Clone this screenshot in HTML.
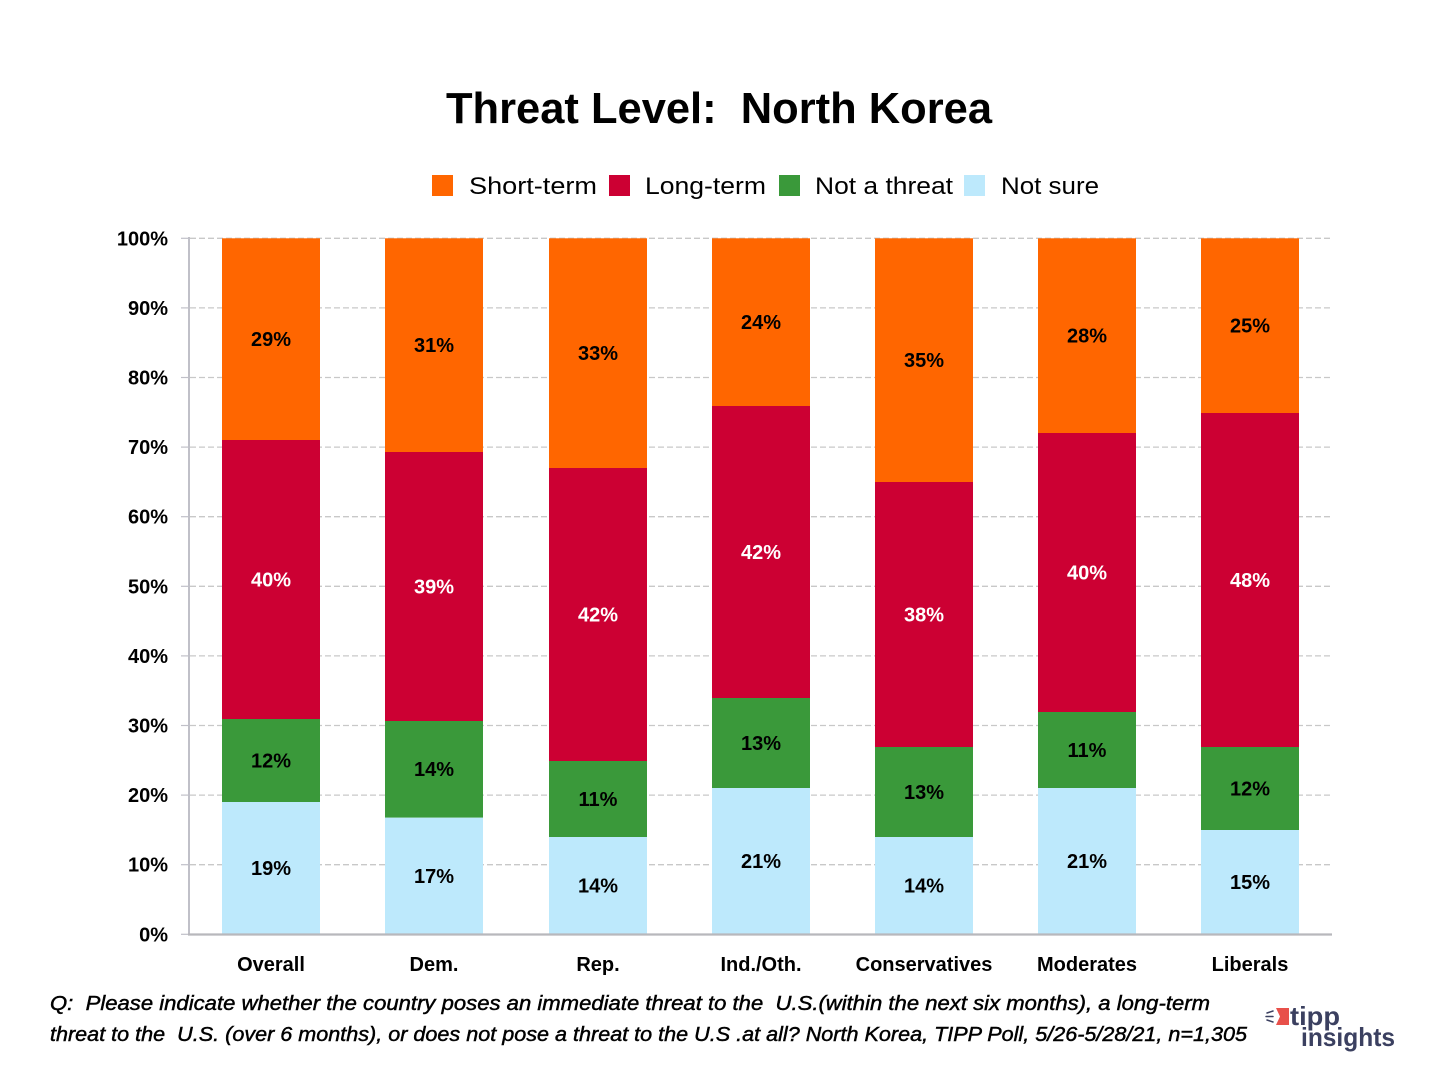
<!DOCTYPE html>
<html><head><meta charset="utf-8"><style>
html,body{margin:0;padding:0;background:#fff;}
svg{display:block;}
text{font-family:"Liberation Sans",sans-serif;white-space:pre;}
</style></head><body>
<svg width="1440" height="1080" viewBox="0 0 1440 1080" xmlns="http://www.w3.org/2000/svg" xml:space="preserve">
<rect width="1440" height="1080" fill="#fff"/>
<text x="446" y="123" font-size="44" font-weight="bold" textLength="546" lengthAdjust="spacingAndGlyphs" fill="#000">Threat Level:  North Korea</text>
<g font-size="24" fill="#000">
<rect x="432" y="175" width="21" height="21" fill="#FF6600"/>
<text x="469" y="194" textLength="128" lengthAdjust="spacingAndGlyphs">Short-term</text>
<rect x="609" y="175" width="21" height="21" fill="#CC0033"/>
<text x="645" y="194" textLength="121" lengthAdjust="spacingAndGlyphs">Long-term</text>
<rect x="779" y="175" width="21" height="21" fill="#3A993A"/>
<text x="815" y="194" textLength="138" lengthAdjust="spacingAndGlyphs">Not a threat</text>
<rect x="964" y="175" width="21" height="21" fill="#BDE9FC"/>
<text x="1001" y="194" textLength="98" lengthAdjust="spacingAndGlyphs">Not sure</text>
</g>
<g stroke="#c8c8c8" stroke-width="1.3" stroke-dasharray="6,3">
<line x1="190" y1="238.3" x2="1331" y2="238.3"/>
<line x1="190" y1="307.9" x2="1331" y2="307.9"/>
<line x1="190" y1="377.5" x2="1331" y2="377.5"/>
<line x1="190" y1="447.1" x2="1331" y2="447.1"/>
<line x1="190" y1="516.7" x2="1331" y2="516.7"/>
<line x1="190" y1="586.3" x2="1331" y2="586.3"/>
<line x1="190" y1="655.9" x2="1331" y2="655.9"/>
<line x1="190" y1="725.5" x2="1331" y2="725.5"/>
<line x1="190" y1="795.1" x2="1331" y2="795.1"/>
<line x1="190" y1="864.7" x2="1331" y2="864.7"/>
</g>
<g stroke="#c0c0c8" stroke-width="1.2">
<line x1="181" y1="238.3" x2="189" y2="238.3"/>
<line x1="181" y1="307.9" x2="189" y2="307.9"/>
<line x1="181" y1="377.5" x2="189" y2="377.5"/>
<line x1="181" y1="447.1" x2="189" y2="447.1"/>
<line x1="181" y1="516.7" x2="189" y2="516.7"/>
<line x1="181" y1="586.3" x2="189" y2="586.3"/>
<line x1="181" y1="655.9" x2="189" y2="655.9"/>
<line x1="181" y1="725.5" x2="189" y2="725.5"/>
<line x1="181" y1="795.1" x2="189" y2="795.1"/>
<line x1="181" y1="864.7" x2="189" y2="864.7"/>
<line x1="181" y1="934.3" x2="189" y2="934.3"/>
</g>
<g>
<rect x="222" y="238.3" width="98" height="201.7" fill="#FF6600"/>
<rect x="222" y="440" width="98" height="279" fill="#CC0033"/>
<rect x="222" y="719" width="98" height="83" fill="#3A993A"/>
<rect x="222" y="802" width="98" height="132.3" fill="#BDE9FC"/>

<rect x="385" y="238.3" width="98" height="213.7" fill="#FF6600"/>
<rect x="385" y="452" width="98" height="269" fill="#CC0033"/>
<rect x="385" y="721" width="98" height="96.7" fill="#3A993A"/>
<rect x="385" y="817.7" width="98" height="116.6" fill="#BDE9FC"/>

<rect x="549" y="238.3" width="98" height="229.7" fill="#FF6600"/>
<rect x="549" y="468" width="98" height="293" fill="#CC0033"/>
<rect x="549" y="761" width="98" height="76" fill="#3A993A"/>
<rect x="549" y="837" width="98" height="97.3" fill="#BDE9FC"/>

<rect x="712" y="238.3" width="98" height="167.7" fill="#FF6600"/>
<rect x="712" y="406" width="98" height="292" fill="#CC0033"/>
<rect x="712" y="698" width="98" height="90" fill="#3A993A"/>
<rect x="712" y="788" width="98" height="146.3" fill="#BDE9FC"/>

<rect x="875" y="238.3" width="98" height="243.7" fill="#FF6600"/>
<rect x="875" y="482" width="98" height="265" fill="#CC0033"/>
<rect x="875" y="747" width="98" height="90" fill="#3A993A"/>
<rect x="875" y="837" width="98" height="97.3" fill="#BDE9FC"/>

<rect x="1038" y="238.3" width="98" height="194.7" fill="#FF6600"/>
<rect x="1038" y="433" width="98" height="279" fill="#CC0033"/>
<rect x="1038" y="712" width="98" height="76" fill="#3A993A"/>
<rect x="1038" y="788" width="98" height="146.3" fill="#BDE9FC"/>

<rect x="1201" y="238.3" width="98" height="174.7" fill="#FF6600"/>
<rect x="1201" y="413" width="98" height="334" fill="#CC0033"/>
<rect x="1201" y="747" width="98" height="83" fill="#3A993A"/>
<rect x="1201" y="830" width="98" height="104.3" fill="#BDE9FC"/>
</g>
<line x1="189" y1="237" x2="189" y2="935" stroke="#c0c0c8" stroke-width="2"/>
<line x1="188" y1="934.5" x2="1332" y2="934.5" stroke="#b8b8bc" stroke-width="2.2"/>
<g font-size="20" font-weight="bold" text-anchor="end" fill="#000">
<text x="168" y="245.3">100%</text>
<text x="168" y="314.9">90%</text>
<text x="168" y="384.5">80%</text>
<text x="168" y="454.1">70%</text>
<text x="168" y="523.7">60%</text>
<text x="168" y="593.3">50%</text>
<text x="168" y="662.9">40%</text>
<text x="168" y="732.5">30%</text>
<text x="168" y="802.1">20%</text>
<text x="168" y="871.7">10%</text>
<text x="168" y="941.3">0%</text>
</g>
<g font-size="20" font-weight="bold" text-anchor="middle" fill="#000">
<text x="271" y="346">29%</text><text x="271" y="586.5" fill="#fff">40%</text><text x="271" y="767.5">12%</text><text x="271" y="875">19%</text>
<text x="434" y="352">31%</text><text x="434" y="593.5" fill="#fff">39%</text><text x="434" y="776">14%</text><text x="434" y="883">17%</text>
<text x="598" y="360">33%</text><text x="598" y="621.5" fill="#fff">42%</text><text x="598" y="806">11%</text><text x="598" y="892.5">14%</text>
<text x="761" y="329">24%</text><text x="761" y="559" fill="#fff">42%</text><text x="761" y="750">13%</text><text x="761" y="868">21%</text>
<text x="924" y="367">35%</text><text x="924" y="621.5" fill="#fff">38%</text><text x="924" y="799">13%</text><text x="924" y="892.5">14%</text>
<text x="1087" y="342.5">28%</text><text x="1087" y="579.5" fill="#fff">40%</text><text x="1087" y="757">11%</text><text x="1087" y="868">21%</text>
<text x="1250" y="332.5">25%</text><text x="1250" y="587" fill="#fff">48%</text><text x="1250" y="795.5">12%</text><text x="1250" y="889">15%</text>
</g>
<g font-size="20" font-weight="bold" text-anchor="middle" fill="#000">
<text x="271" y="971">Overall</text>
<text x="434" y="971">Dem.</text>
<text x="598" y="971">Rep.</text>
<text x="761" y="971">Ind./Oth.</text>
<text x="924" y="971">Conservatives</text>
<text x="1087" y="971">Moderates</text>
<text x="1250" y="971">Liberals</text>
</g>
<g font-size="20" font-style="italic" fill="#000" stroke="#000" stroke-width="0.45">
<text x="50" y="1010" textLength="1160" lengthAdjust="spacingAndGlyphs">Q:  Please indicate whether the country poses an immediate threat to the  U.S.(within the next six months), a long-term</text>
<text x="50" y="1041" textLength="1197" lengthAdjust="spacingAndGlyphs">threat to the  U.S. (over 6 months), or does not pose a threat to the U.S .at all? North Korea, TIPP Poll, 5/26-5/28/21, n=1,305</text>
</g>
<g>
<path d="M1276 1008 L1289 1008 L1289 1025 L1276 1025 L1280 1016.5 Z" fill="#e8504a"/>
<g stroke="#3b4060" stroke-width="1.5" stroke-linecap="round">
<line x1="1267" y1="1013" x2="1273" y2="1011"/>
<line x1="1266" y1="1016.5" x2="1273" y2="1016.5"/>
<line x1="1267" y1="1020" x2="1273" y2="1022"/>
</g>
<text x="1290" y="1025" font-size="26" font-weight="bold" fill="#3b4060" textLength="50" lengthAdjust="spacingAndGlyphs">tipp</text>
<text x="1301" y="1046" font-size="26" font-weight="bold" fill="#3b4060" textLength="94" lengthAdjust="spacingAndGlyphs">insights</text>
</g>
</svg>
</body></html>
